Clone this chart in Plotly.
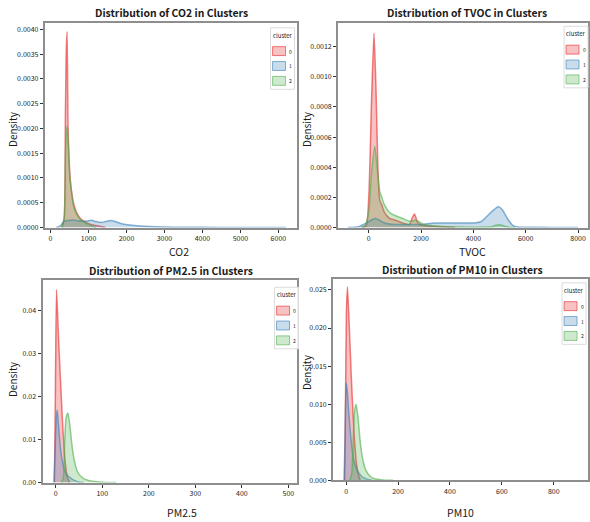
import plotly.graph_objects as go

W, H = 590, 522

clusters = ["0", "1", "2"]
line_colors = ["rgba(228,26,28,0.55)", "rgba(55,126,184,0.6)", "rgba(77,175,74,0.6)"]
fill_colors = ["rgba(228,26,28,0.27)", "rgba(55,126,184,0.27)", "rgba(77,175,74,0.27)"]

# ---- CO2 ----
co2_x_0 = [300, 360, 390, 415, 436, 462, 500, 533, 580, 620, 700, 800, 1000, 1200, 1450]
co2_y_0 = [0, 0.0002, 0.0022, 0.0036, 0.00395, 0.002, 0.0012, 0.00085, 0.0006, 0.00045, 0.00028, 0.00017, 0.00008, 0.00004, 0.0]
co2_x_1 = [150, 250, 350, 450, 600, 800, 950, 1075, 1200, 1320, 1450, 1580, 1700, 1900, 2200, 2600, 3000, 3500, 4000, 5000, 6200]
co2_y_1 = [0, 0.00003, 0.00012, 0.00014, 0.00015, 0.00013, 0.00013, 0.000146, 0.00012, 0.0001, 0.00012, 0.00014, 0.00012, 0.00007, 0.00004, 0.00002, 0.00001, 0.000006, 0.000004, 0.000002, 0]
co2_x_2 = [300, 360, 390, 415, 440, 470, 500, 540, 600, 700, 800, 1000, 1200]
co2_y_2 = [0, 0.0002, 0.0014, 0.0019, 0.00205, 0.0016, 0.0011, 0.0008, 0.00045, 0.00025, 0.00015, 0.00006, 0.0]

# ---- TVOC ----
tvoc_x_0 = [-250, -100, 0, 100, 200, 280, 350, 420, 500, 600, 800, 1000, 1300, 1550, 1650, 1750, 1850, 1950, 2300, 2800, 3300]
tvoc_y_0 = [0, 0.00001, 0.0002, 0.0008, 0.00129, 0.0009, 0.0004, 0.00018, 0.00015, 0.0001, 0.00006, 0.00005, 0.00003, 0.00002, 0.00006, 0.00009, 0.00004, 0.00002, 0.00001, 0.000005, 0]
tvoc_x_1 = [-800, -400, -100, 100, 250, 400, 600, 1000, 1500, 2000, 2500, 3000, 3500, 4000, 4300, 4550, 4800, 4950, 5100, 5300, 5500, 5700, 6000, 7000, 8000]
tvoc_y_1 = [0, 0.000005, 0.00003, 0.00005, 0.00006, 0.00005, 0.00003, 0.00002, 0.00002, 0.00002, 0.00003, 0.00003, 0.00003, 0.00003, 0.00004, 0.00008, 0.00012, 0.000138, 0.00012, 0.00006, 0.000015, 0.000003, 0.000002, 0.000001, 0]
tvoc_x_2 = [-300, -150, 0, 100, 230, 330, 420, 500, 600, 800, 1000, 1300, 1600, 1800, 2100, 2500, 3000, 4000, 4700, 4850, 5000, 5150, 5300, 5600]
tvoc_y_2 = [0, 0.00001, 0.0001, 0.00035, 0.00054, 0.00038, 0.00024, 0.0002, 0.00015, 0.0001, 0.00008, 0.00006, 0.00004, 0.00005, 0.00002, 0.00001, 0.000005, 0.000002, 0.000005, 0.000015, 0.000018, 0.000012, 0.000003, 0]

# ---- PM2.5 ----
pm25_x_0 = [-3, -1, 1.5, 5, 10, 15, 20, 25, 30]
pm25_y_0 = [0, 0.02, 0.045, 0.036, 0.024, 0.013, 0.005, 0.0012, 0]
pm25_x_1 = [-4, -2, 1, 3, 6, 10, 15, 20, 25, 30, 40, 50, 60]
pm25_y_1 = [0, 0.006, 0.015, 0.0169, 0.013, 0.008, 0.0045, 0.0025, 0.0017, 0.0012, 0.0005, 0.0001, 0]
pm25_x_2 = [12, 16, 19, 22, 26, 30, 35, 40, 45, 50, 60, 70, 80, 100, 130]
pm25_y_2 = [0, 0.001, 0.009, 0.015, 0.0162, 0.0135, 0.0085, 0.005, 0.003, 0.0019, 0.0009, 0.0005, 0.0003, 0.0001, 0]

# ---- PM10 ----
pm10_x_0 = [-6, -2, 1, 5, 10, 20, 30, 40, 50, 55]
pm10_y_0 = [0, 0.012, 0.022, 0.0254, 0.022, 0.0135, 0.0065, 0.0022, 0.0004, 0]
pm10_x_1 = [-8, -4, 0, 5, 10, 20, 30, 40, 50, 60, 80, 100]
pm10_y_1 = [0, 0.006, 0.0128, 0.0115, 0.009, 0.005, 0.0025, 0.0015, 0.0009, 0.0005, 0.00015, 0]
pm10_x_2 = [15, 22, 28, 33, 38, 45, 55, 65, 75, 90, 110, 140, 180]
pm10_y_2 = [0, 0.001, 0.006, 0.0092, 0.01, 0.0085, 0.0048, 0.0026, 0.0014, 0.0006, 0.0002, 0.00005, 0]

variables = ["CO2", "TVOC", "PM2.5", "PM10"]
series = {
    "CO2": [(co2_x_0, co2_y_0), (co2_x_1, co2_y_1), (co2_x_2, co2_y_2)],
    "TVOC": [(tvoc_x_0, tvoc_y_0), (tvoc_x_1, tvoc_y_1), (tvoc_x_2, tvoc_y_2)],
    "PM2.5": [(pm25_x_0, pm25_y_0), (pm25_x_1, pm25_y_1), (pm25_x_2, pm25_y_2)],
    "PM10": [(pm10_x_0, pm10_y_0), (pm10_x_1, pm10_y_1), (pm10_x_2, pm10_y_2)],
}

# axis settings: (x range, x tick step, y range, y tick step, y format)
axis_cfg = {
    "CO2": ([-150, 6490], 1000, [0, 0.00413], 0.0005, ".4f"),
    "TVOC": ([-1170, 8381], 2000, [0, 0.00136], 0.0002, ".4f"),
    "PM2.5": ([-28.5, 518.6], 100, [0, 0.04717], 0.01, ".2f"),
    "PM10": ([-50, 932], 200, [0, 0.0265], 0.005, ".3f"),
}

# pixel layout (left, right, top, bottom)
boxes = {
    "CO2": (45, 298, 23, 229.3),
    "TVOC": (339.3, 590, 22.7, 229.3),
    "PM2.5": (42.7, 298, 282.3, 486.3),
    "PM10": (334.3, 590, 280.7, 484),
}
title_pos = {"CO2": (172.5, 12.7), "TVOC": (469, 13), "PM2.5": (172, 272.3), "PM10": (464, 272)}
xlabel_pos = {"CO2": (180, 253), "TVOC": (474, 253), "PM2.5": (183, 516), "PM10": (462, 516)}
ylabel_pos = {"CO2": (12, 130), "TVOC": (307, 130), "PM2.5": (12, 382), "PM10": (307, 375)}
legend_pos = {"CO2": (271.5, 28), "TVOC": (566, 26.5), "PM2.5": (275.5, 289.5), "PM10": (564, 285)}

FONT = "Noto Sans CJK KR, Noto Sans, sans-serif"

def px(x):
    return x / W

def py(y):
    return 1 - y / H

fig = go.Figure()
layout = dict(
    width=W, height=H, margin=dict(l=0, r=0, t=0, b=0),
    paper_bgcolor="white", plot_bgcolor="white", showlegend=False,
    font=dict(family=FONT, color="#1a1a1a"),
)
annotations = []
shapes = []

for i, var in enumerate(variables):
    n = "" if i == 0 else str(i + 1)
    xa, ya = "x" + n, "y" + n
    for c, (xs, ys) in enumerate(series[var]):
        fig.add_trace(go.Scatter(
            x=xs, y=ys, xaxis=xa, yaxis=ya, mode="lines", fill="tozeroy",
            line=dict(color=line_colors[c], width=1.5, shape="spline", smoothing=0.6),
            fillcolor=fill_colors[c], name=clusters[c], hoverinfo="skip",
        ))
    xr, xd, yr, yd, yf = axis_cfg[var]
    l, r, t, b = boxes[var]
    common = dict(showgrid=False, zeroline=False, showline=True, mirror=True,
                  linecolor="#8e8e8e", linewidth=2, ticks="outside", ticklen=3,
                  tickwidth=1, tickcolor="#333", tickfont=dict(size=7, color="#1a1a1a"))
    layout["xaxis" + n] = dict(domain=[px(l), min(px(r), 1)], range=xr, dtick=xd, tick0=0,
                               anchor=ya, **common)
    layout["yaxis" + n] = dict(domain=[py(b), py(t)], range=yr, dtick=yd, tick0=0,
                               tickformat=yf, anchor=xa, **common)
    tx, ty = title_pos[var]
    annotations.append(dict(text="<b>Distribution of %s in Clusters</b>" % var, x=px(tx), y=py(ty),
                            xref="paper", yref="paper", showarrow=False,
                            font=dict(size=10.4, color="#1a1a1a"), xanchor="center", yanchor="middle"))
    lx, ly = xlabel_pos[var]
    annotations.append(dict(text=var, x=px(lx), y=py(ly), xref="paper", yref="paper", showarrow=False,
                            font=dict(size=10.5, color="#1a1a1a"), xanchor="center", yanchor="middle"))
    dx, dy = ylabel_pos[var]
    annotations.append(dict(text="Density", x=px(dx), y=py(dy), xref="paper", yref="paper",
                            showarrow=False, textangle=-90,
                            font=dict(size=10, color="#1a1a1a"), xanchor="center", yanchor="middle"))
    # legend box
    bx, by = legend_pos[var]
    shapes.append(dict(type="rect", xref="paper", yref="paper", x0=px(bx), x1=px(bx + 24),
                       y0=py(by + 62), y1=py(by), line=dict(color="#dcdcdc", width=1),
                       fillcolor="rgba(255,255,255,0.85)"))
    annotations.append(dict(text="cluster", x=px(bx + 12), y=py(by + 7.5), xref="paper", yref="paper",
                            showarrow=False, font=dict(size=6, color="#1a1a1a"),
                            xanchor="center", yanchor="middle"))
    for c, lab in enumerate(clusters):
        top = by + 19 + 15 * c
        shapes.append(dict(type="rect", xref="paper", yref="paper", x0=px(bx + 2), x1=px(bx + 15),
                           y0=py(top + 9), y1=py(top), line=dict(color=line_colors[c], width=1),
                           fillcolor=fill_colors[c]))
        annotations.append(dict(text=lab, x=px(bx + 20), y=py(top + 4.5), xref="paper", yref="paper",
                                showarrow=False, font=dict(size=5, color="#1a1a1a"),
                                xanchor="center", yanchor="middle"))

layout["annotations"] = annotations
layout["shapes"] = shapes
fig.update_layout(**layout)
fig.write_html("out.html", config={"displayModeBar": False},
               post_script="document.body.style.margin='0';document.body.style.overflow='hidden';")
